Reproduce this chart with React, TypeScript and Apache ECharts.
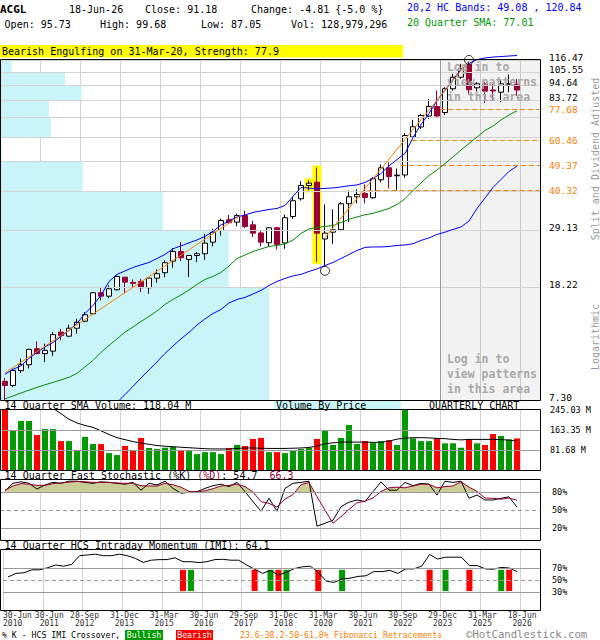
import React, { useEffect, useRef } from "react";
import * as echarts from "echarts";

const MONO = '"DejaVu Sans Mono", monospace';

// ---------- data ----------
const dateTickLabels = [
  "30-Jun\n2010", "30-Jun\n2011", "28-Sep\n2012", "31-Dec\n2013", "31-Mar\n2015",
  "30-Jun\n2016", "29-Sep\n2017", "31-Dec\n2018", "31-Mar\n2020", "30-Jun\n2021",
  "30-Sep\n2022", "29-Dec\n2023", "31-Mar\n2025", "18-Jun\n2026",
];

const opens = [8.50, 8.22, 9.27, 9.73, 11.09, 10.65, 10.87, 12.69, 12.28, 13.10, 13.87, 14.74, 17.49, 17.01, 17.92, 19.86, 19.02, 19.18, 18.22, 19.70, 20.59, 22.62, 24.48, 22.94, 23.69, 24.03, 26.41, 29.05, 31.70, 31.08, 32.83, 30.43, 28.47, 26.28, 29.69, 26.24, 32.56, 37.61, 41.91, 43.05, 27.11, 28.65, 29.21, 36.11, 38.23, 39.27, 37.92, 43.90, 48.41, 45.36, 45.65, 62.21, 67.49, 73.81, 79.75, 75.95, 92.12, 101.25, 112.30, 92.87, 95.95, 91.22, 89.60, 95.60, 95.73];
const closes = [8.22, 9.29, 9.73, 11.02, 10.65, 10.94, 12.43, 12.35, 13.10, 13.76, 14.62, 17.49, 17.01, 18.07, 19.97, 19.07, 18.86, 18.22, 19.70, 20.42, 22.33, 24.48, 23.26, 23.69, 24.03, 26.20, 28.65, 31.51, 30.93, 32.83, 30.01, 28.42, 26.41, 29.69, 25.93, 32.22, 37.00, 41.91, 42.71, 28.42, 28.42, 29.21, 36.11, 38.23, 38.95, 38.00, 44.26, 48.41, 45.10, 45.59, 62.97, 67.61, 74.12, 79.75, 73.81, 92.12, 101.25, 108.42, 91.37, 95.95, 90.33, 90.48, 95.95, 95.99, 91.18];
const lows = [7.25, 8.11, 9.09, 9.44, 10.60, 9.94, 10.44, 11.86, 12.18, 12.53, 13.76, 14.62, 16.42, 16.73, 17.82, 17.43, 18.31, 17.57, 17.35, 18.97, 19.86, 21.44, 22.62, 19.86, 22.44, 22.88, 25.50, 27.89, 30.68, 30.08, 29.60, 27.51, 25.50, 25.50, 24.89, 25.03, 31.96, 37.09, 40.24, 22.44, 21.60, 26.07, 28.89, 31.08, 36.20, 36.20, 37.61, 43.05, 40.90, 40.24, 44.63, 61.95, 66.51, 72.15, 72.74, 74.42, 90.85, 99.94, 88.45, 86.51, 81.94, 84.22, 82.60, 89.60, 87.05];
const highs = [8.73, 9.42, 10.22, 11.10, 11.77, 11.55, 12.69, 13.04, 13.47, 14.15, 14.93, 17.57, 18.31, 18.56, 20.14, 19.90, 19.49, 19.60, 19.75, 21.14, 22.75, 25.15, 26.41, 23.75, 24.34, 28.28, 29.45, 31.96, 33.02, 33.29, 34.19, 31.51, 29.05, 29.80, 29.94, 33.02, 38.32, 43.40, 43.65, 48.52, 35.90, 34.50, 36.58, 40.24, 40.57, 42.26, 44.84, 49.73, 50.54, 48.13, 64.17, 71.56, 75.15, 84.77, 90.85, 93.33, 104.10, 112.93, 116.47, 97.21, 97.21, 95.95, 98.56, 103.50, 99.68];

const upperBand = [9.00, 9.37, 9.64, 10.25, 10.76, 11.25, 11.67, 12.25, 12.87, 13.62, 14.77, 15.77, 17.11, 19.18, 20.31, 20.89, 21.49, 21.95, 22.38, 23.12, 23.89, 25.03, 25.61, 26.26, 26.89, 27.67, 28.82, 30.38, 31.38, 32.43, 32.96, 33.64, 34.05, 34.47, 34.75, 35.61, 38.32, 41.23, 41.00, 40.80, 40.90, 41.08, 41.40, 41.81, 42.09, 42.95, 44.37, 46.22, 49.12, 51.78, 54.39, 61.95, 68.89, 75.33, 83.75, 90.85, 99.37, 107.80, 113.20, 116.90, 118.40, 119.30, 119.80, 120.30, 120.84];
const sma20 = [7.37, 7.54, 7.73, 7.91, 8.09, 8.26, 8.43, 8.60, 8.78, 9.07, 9.56, 10.08, 10.76, 11.39, 12.01, 12.69, 13.23, 13.84, 14.42, 15.08, 15.90, 16.56, 17.18, 17.89, 18.72, 19.49, 19.97, 20.64, 21.75, 23.12, 23.79, 24.48, 24.98, 25.50, 25.71, 26.03, 26.89, 28.35, 29.41, 29.77, 30.01, 30.25, 31.00, 31.80, 32.43, 33.00, 33.40, 34.05, 34.75, 35.90, 37.61, 40.24, 42.77, 45.47, 47.55, 50.13, 52.86, 55.96, 59.00, 62.21, 65.59, 68.04, 71.45, 74.41, 77.01];
const lowerBand = [null, null, null, null, null, null, null, null, null, null, null, null, null, null, 7.15, 7.63, 8.16, 8.74, 9.33, 9.96, 10.67, 11.34, 12.01, 12.66, 13.45, 14.13, 14.77, 15.26, 16.09, 16.56, 16.83, 17.32, 17.82, 18.56, 19.18, 19.65, 20.06, 20.31, 20.80, 21.23, 21.84, 22.38, 23.12, 23.89, 24.68, 25.30, 25.40, 25.40, 25.50, 25.71, 25.82, 26.07, 26.78, 27.33, 28.12, 28.65, 29.29, 29.89, 31.38, 34.75, 37.85, 41.23, 44.01, 46.98, 49.08];

const volumes = [245, 163, 200, 200, 143, 167, 167, 118, 118, 82, 135, 106, 106, 69, 61, 98, 79, 131, 90, 86, 91, 95, 82, 82, 65, 73, 73, 65, 90, 102, 98, 127, 131, 73, 73, 69, 78, 86, 90, 127, 163, 102, 131, 184, 106, 118, 110, 118, 122, 102, 245, 129, 118, 118, 129, 109, 109, 91, 125, 109, 102, 147, 139, 125, 129];
const volSma = [null, null, null, null, null, null, 252, 230, 207, 192, 182, 174, 160, 145, 132, 124, 116, 110, 105, 100, 97, 95, 93, 91, 89, 87, 86, 86, 86, 88, 90, 90, 89, 88, 88, 88, 89, 90, 92, 98, 107, 111, 114, 114, 114, 114, 113, 113, 118, 126, 130, 132, 132, 131, 129, 128, 125, 123, 125, 125, 125, 125, 124, 122, 118];

const stochK = [82, 94.5, 97, 94.5, 85, 91.7, 96, 94.5, 98, 98, 96, 94.5, 97, 96, 94.5, 93, 96, 83, 94.5, 91.7, 98, 86, 78, 79.5, 80.5, 86, 90.5, 93, 89, 96, 80.5, 64, 48, 69.5, 48, 86, 94.5, 96, 98, 23, 28, 33, 55.5, 63, 66.7, 64, 80.5, 97, 83, 83, 96, 90.5, 94.5, 93, 75, 98, 96, 98, 69.5, 75, 66.7, 66.7, 69.5, 72, 54.7];
const stochD = [83, 90, 94, 93, 91, 91, 94, 95, 96.5, 97.5, 97, 96, 96, 96, 95, 94.5, 94.5, 90.5, 90, 90, 94.5, 92, 88, 81, 80, 82, 85.5, 90, 91, 93, 89, 80, 64, 61, 55, 68, 76, 92, 96, 72, 50, 28, 39, 51, 62, 65, 70, 81, 87, 88, 87, 90, 93, 93, 87, 89, 90, 97, 88, 81, 70, 69.5, 68, 70, 66.3];
const imi = [55, 61, 62, 67, 67, 70.5, 75, 73, 76, 90.5, 91.7, 93, 90.5, 90.5, 93, 90.5, 86, 79.4, 83, 84, 84, 87, 80.5, 80.5, 79, 80.5, 84, 84.5, 83, 83, 75, 68, 61, 66, 58, 63, 69, 72, 73, 63, 48, 46, 52, 53, 56, 57, 64, 64, 66, 61, 68.5, 68.5, 73, 92.5, 85, 88, 88, 88, 74, 74, 68.5, 68, 71, 70, 64.1];
const imiBullQuarters = [23, 33, 35, 42, 55, 62];
const imiBearQuarters = [22, 31, 34, 39, 53, 58, 63];

const priceGridValues = [7.30, 18.22, 29.13, 40.05, 50.97, 61.88, 72.80, 83.72, 94.64, 105.55, 116.47];
const priceGridLabelled = [7.30, 18.22, 29.13, 83.72, 94.64, 105.55, 116.47];
const fibLevels = [77.68, 60.46, 49.37, 40.32];
const fibStartQuarter = [54.4, 50.9, 49.5, 45.3];
const vbpVolume = [269.3, 228.7, 162.7, 82.7, 1.5, 51, 49, 81.7, 65, 11.7]; // bands bottom -> top
const trendLineA = [[0, 9.1], [29.4, 32.8]];
const trendLineB = [[40, 27.4], [58, 115.5]];
const patternQuarters = [38, 39];
const circledQuarters = [40, 58];
const circledPrices = [20.92, 116.47];
const volumeTicks = [245.03, 163.35, 81.68];
const stochTicks = [80, 50, 20];
const imiTicks = [70, 50, 30];
const STOCH_FILL_LEVEL = 80;

// ---------- helpers ----------
const xv = (i: number) => i + 0.625;
const XMAX = 67.5;
const UP = "#009900";
const DOWN_VOL = "#ff0000";
const MAROON = "#990033";
const ORANGE = "#ff8000";
const CYAN = "#c8f4fa";

function text(x: number, y: number, t: string, opts: any = {}) {
  return {
    type: "text",
    x,
    y,
    z: 120,
    rotation: opts.rotation || 0,
    style: {
      text: t,
      x: 0,
      y: 0,
      fill: opts.fill || "#000",
      font: opts.font || `10px ${MONO}`,
      textAlign: opts.align || "left",
      align: opts.align || "left",
      textVerticalAlign: "middle",
      verticalAlign: "middle",
    },
  };
}
function rect(x: number, y: number, w: number, h: number, fill: string, stroke?: string, z = 110) {
  return {
    type: "rect",
    z,
    shape: { x, y, width: w, height: h },
    style: stroke ? { fill: "none", stroke, lineWidth: 1 } : { fill },
  };
}

export default function App() {
  const ref = useRef<HTMLDivElement>(null);

  useEffect(() => {
    if (!ref.current) return;
    const chart = echarts.init(ref.current, undefined, { renderer: "svg" });

    const grids = [
      { left: 0, top: 60, width: 540, height: 340 },
      { left: 0, top: 410, width: 540, height: 60 },
      { left: 0, top: 480, width: 540, height: 60 },
      { left: 0, top: 550, width: 540, height: 60 },
    ];

    const richDate = { fontFamily: MONO, fontSize: 8, lineHeight: 8.5, color: "#333" };
    const dateLabelStyle = {
      show: true,
      fontFamily: MONO,
      fontSize: 8,
      color: "#333",
      lineHeight: 8.5,
      margin: 1,
      rich: {
        s: { ...richDate, padding: [0, 0, 0, 4] },
        w: { ...richDate, padding: [0, 0, 0, 13] },
      },
    };

    const xAxes: any[] = [0, 1, 2, 3].map((g) => ({
      type: "value",
      gridIndex: g,
      min: 0,
      max: XMAX,
      interval: 5,
      position: "bottom",
      axisLine: { show: false },
      axisTick: { show: false },
      axisLabel:
        g === 3
          ? {
              ...dateLabelStyle,
              showMinLabel: false,
              showMaxLabel: false,
              formatter: (val: number) => {
                const k = Math.round(val / 5);
                if (k < 1 || Math.abs(val - k * 5) > 0.01) return "";
                const lbl = dateTickLabels[k];
                if (!lbl) return "";
                const tag = k === 1 ? "w" : "s";
                return lbl
                  .split("\n")
                  .map((part) => `{${tag}|${part}}`)
                  .join("\n");
              },
            }
          : { show: false },
      splitLine: { show: true, lineStyle: { color: "#d3d3d3", width: 1 } },
    }));
    // xAxis 4: volume-by-price scale inside the price grid
    xAxes.push({ type: "value", gridIndex: 0, min: 0, max: 540, show: false });
    // xAxis 5: only carries the first date label (left aligned)
    xAxes.push({
      type: "value",
      gridIndex: 3,
      min: 0,
      max: XMAX,
      interval: 5,
      position: "bottom",
      offset: 0,
      axisLine: { show: false },
      axisTick: { show: false },
      splitLine: { show: false },
      axisLabel: {
        show: true,
        fontFamily: MONO,
        fontSize: 8,
        color: "#333",
        lineHeight: 8.5,
        margin: 1,
        showMinLabel: true,
        showMaxLabel: false,
        alignMinLabel: "left",
        formatter: (val: number) => (Math.abs(val) < 0.01 ? dateTickLabels[0] : ""),
      },
    });

    const hidden = {
      axisLine: { show: false },
      axisTick: { show: false },
      axisLabel: { show: false },
      splitLine: { show: false },
    };
    const yAxes = [
      { type: "log", logBase: 10, gridIndex: 0, min: 7.3, max: 116.47, ...hidden },
      { type: "value", gridIndex: 1, min: 0, max: 245.03, ...hidden },
      { type: "value", gridIndex: 2, min: 0, max: 100, ...hidden },
      { type: "value", gridIndex: 3, min: 0, max: 100, ...hidden },
    ];

    const labelBase = {
      show: true,
      position: "end",
      formatter: "{b}",
      fontFamily: MONO,
      color: "#000",
    };

    const fibStyle = { color: ORANGE, width: 1, type: [5, 3] };
    const fibLabel = { show: true, color: ORANGE, verticalAlign: "middle", lineHeight: 11 };
    const mainMarkLines: any[] = [
      ...priceGridValues.map((v) => ({
        yAxis: v,
        name: v.toFixed(2),
        lineStyle: { color: "#d3d3d3", width: 1, type: "solid" },
        label: { show: priceGridLabelled.includes(v) },
      })),
      { xAxis: 55, name: "", lineStyle: { color: "#999", width: 1, type: "solid" }, label: { show: false } },
      ...fibLevels.map((v, k) => [
        { coord: [xv(fibStartQuarter[k]), v], name: v.toFixed(2), lineStyle: fibStyle, label: fibLabel },
        { coord: [XMAX, v], name: v.toFixed(2), lineStyle: fibStyle, label: fibLabel },
      ]),
    ];

    const panelLines = (ticks: number[], names: string[], dashed: number | null, hideFirstLine: boolean) =>
      ticks.map((v, k) => ({
        yAxis: v,
        name: names[k],
        lineStyle: {
          color: hideFirstLine && k === 0 ? "rgba(0,0,0,0)" : "#9a9a9a",
          width: 1,
          type: dashed === v ? [4, 3] : "solid",
        },
      }));

    const series: any[] = [
      // ----- main panel -----
      {
        type: "line",
        xAxisIndex: 0,
        yAxisIndex: 0,
        data: [[xv(0), closes[0]]],
        showSymbol: false,
        lineStyle: { opacity: 0 },
        silent: true,
        z: 1,
        markArea: {
          silent: true,
          itemStyle: { color: "rgba(0,0,0,0.05)" },
          data: [[{ xAxis: 55 }, { xAxis: XMAX }]],
        },
        markLine: {
          silent: true,
          symbol: ["none", "none"],
          label: { ...labelBase, distance: 9, fontSize: 9.5, verticalAlign: "bottom", lineHeight: 6 },
          data: mainMarkLines,
        },
      },
      {
        type: "custom",
        xAxisIndex: 4,
        yAxisIndex: 0,
        z: 2,
        silent: true,
        data: vbpVolume.map((vol, k) => [priceGridValues[k], priceGridValues[k + 1], vol]),
        encode: { x: 2, y: [0, 1] },
        renderItem: (params: any, api: any) => {
          const p1 = api.coord([0, api.value(1)]);
          const p2 = api.coord([api.value(2), api.value(0)]);
          return {
            type: "rect",
            shape: { x: p1[0], y: p1[1], width: p2[0] - p1[0], height: p2[1] - p1[1] },
            style: { fill: CYAN },
          };
        },
      },
      {
        type: "custom",
        xAxisIndex: 0,
        yAxisIndex: 0,
        z: 3,
        silent: true,
        data: patternQuarters.map((i) => [xv(i), lows[i], highs[i]]),
        encode: { x: 0, y: [1, 2] },
        renderItem: (params: any, api: any) => {
          const top = api.coord([api.value(0), api.value(2)]);
          const bot = api.coord([api.value(0), api.value(1)]);
          return {
            type: "rect",
            shape: { x: top[0] - 4.5, y: top[1] - 2, width: 9, height: bot[1] - top[1] + 4 },
            style: { fill: "#ffff00" },
          };
        },
      },
      {
        type: "candlestick",
        xAxisIndex: 0,
        yAxisIndex: 0,
        z: 4,
        barWidth: 6,
        data: opens.map((o, i) => [xv(i), o, closes[i], lows[i], highs[i]]),
        encode: { x: 0, y: [1, 2, 3, 4] },
        itemStyle: {
          color: "#ffffff",
          borderColor: "#000000",
          color0: MAROON,
          borderColor0: MAROON,
          borderWidth: 1,
        },
      },
      {
        type: "line",
        xAxisIndex: 0,
        yAxisIndex: 0,
        z: 5,
        data: sma20.map((v, i) => [xv(i), v]),
        showSymbol: false,
        lineStyle: { color: "#008c00", width: 1 },
      },
      {
        type: "line",
        xAxisIndex: 0,
        yAxisIndex: 0,
        z: 5,
        clip: false,
        data: upperBand.map((v, i) => [xv(i), v]),
        showSymbol: false,
        lineStyle: { color: "#0000ff", width: 1 },
      },
      {
        type: "line",
        xAxisIndex: 0,
        yAxisIndex: 0,
        z: 5,
        data: lowerBand.map((v, i) => [xv(i), v == null ? "-" : v]),
        showSymbol: false,
        lineStyle: { color: "#0000ff", width: 1 },
      },
      ...[trendLineA, trendLineB].map((ln) => ({
        type: "line",
        xAxisIndex: 0,
        yAxisIndex: 0,
        z: 5,
        data: ln.map((p) => [xv(p[0]), p[1]]),
        showSymbol: false,
        lineStyle: { color: ORANGE, width: 1 },
      })),
      {
        type: "scatter",
        xAxisIndex: 0,
        yAxisIndex: 0,
        z: 6,
        clip: false,
        symbol: "circle",
        symbolSize: 9,
        data: circledQuarters.map((q, k) => [xv(q), circledPrices[k]]),
        itemStyle: { color: "rgba(0,0,0,0)", borderColor: "#000", borderWidth: 1 },
      },
      // ----- volume panel -----
      {
        type: "line",
        xAxisIndex: 1,
        yAxisIndex: 1,
        data: [[xv(0), 0]],
        showSymbol: false,
        lineStyle: { opacity: 0 },
        silent: true,
        z: 1,
        markLine: {
          silent: true,
          symbol: ["none", "none"],
          label: { ...labelBase, distance: 10, fontSize: 8.5 },
          data: panelLines(volumeTicks, ["245.03 M", "163.35 M", "81.68 M"], null, true),
        },
      },
      {
        type: "bar",
        xAxisIndex: 1,
        yAxisIndex: 1,
        z: 2,
        barWidth: 6,
        data: volumes.map((v, i) => [xv(i), v]),
        itemStyle: {
          color: (p: any) => (closes[p.dataIndex] >= opens[p.dataIndex] ? UP : DOWN_VOL),
        },
      },
      {
        type: "line",
        xAxisIndex: 1,
        yAxisIndex: 1,
        z: 3,
        data: volSma.map((v, i) => [xv(i), v == null ? "-" : v]),
        showSymbol: false,
        lineStyle: { color: "#000", width: 1 },
      },
      // ----- stochastic panel -----
      {
        type: "line",
        xAxisIndex: 2,
        yAxisIndex: 2,
        z: 1,
        data: [[xv(0), 50]],
        showSymbol: false,
        lineStyle: { opacity: 0 },
        silent: true,
        markLine: {
          silent: true,
          symbol: ["none", "none"],
          label: { ...labelBase, distance: 12, fontSize: 8.5 },
          data: panelLines(stochTicks, ["80%", "50%", "20%"], 50, false),
        },
      },
      {
        type: "custom",
        xAxisIndex: 2,
        yAxisIndex: 2,
        z: 2,
        silent: true,
        data: stochD.map((v, i) => [xv(i), v]),
        encode: { x: 0, y: 1 },
        renderItem: (params: any, api: any) => {
          const i = params.dataIndex;
          if (i === 0) return null;
          const L = STOCH_FILL_LEVEL;
          const x0 = xv(i - 1);
          const x1 = xv(i);
          const d0 = stochD[i - 1];
          const d1 = stochD[i];
          if (d0 <= L && d1 <= L) return null;
          let pts: number[][];
          if (d0 >= L && d1 >= L) {
            pts = [[x0, L], [x0, d0], [x1, d1], [x1, L]];
          } else {
            const t = (L - d0) / (d1 - d0);
            const xc = x0 + t * (x1 - x0);
            pts = d0 > L ? [[x0, L], [x0, d0], [xc, L]] : [[xc, L], [x1, d1], [x1, L]];
          }
          return {
            type: "polygon",
            shape: { points: pts.map((p) => api.coord(p)) },
            style: { fill: "#cccc99", stroke: "#cccc99", lineWidth: 0.6 },
          };
        },
      },
      {
        type: "line",
        xAxisIndex: 2,
        yAxisIndex: 2,
        z: 4,
        data: stochK.map((v, i) => [xv(i), v]),
        showSymbol: false,
        lineStyle: { color: "#000", width: 1 },
      },
      {
        type: "line",
        xAxisIndex: 2,
        yAxisIndex: 2,
        z: 4,
        data: stochD.map((v, i) => [xv(i), v]),
        showSymbol: false,
        lineStyle: { color: MAROON, width: 1 },
      },
      // ----- IMI panel -----
      {
        type: "line",
        xAxisIndex: 3,
        yAxisIndex: 3,
        z: 1,
        data: [[xv(0), 50]],
        showSymbol: false,
        lineStyle: { opacity: 0 },
        silent: true,
        markLine: {
          silent: true,
          symbol: ["none", "none"],
          label: { ...labelBase, distance: 12, fontSize: 8.5 },
          data: panelLines(imiTicks, ["70%", "50%", "30%"], 50, false),
        },
      },
      {
        type: "custom",
        xAxisIndex: 3,
        yAxisIndex: 3,
        z: 2,
        silent: true,
        data: [
          ...imiBullQuarters.map((q) => [xv(q), 1]),
          ...imiBearQuarters.map((q) => [xv(q), 0]),
        ],
        encode: { x: 0, y: 1 },
        renderItem: (params: any, api: any) => {
          const a = api.coord([api.value(0), 67]);
          const b = api.coord([api.value(0), 31.5]);
          return {
            type: "rect",
            shape: { x: a[0] - 3, y: a[1], width: 6, height: b[1] - a[1] },
            style: { fill: api.value(1) ? UP : DOWN_VOL },
          };
        },
      },
      {
        type: "line",
        xAxisIndex: 3,
        yAxisIndex: 3,
        z: 3,
        data: imi.map((v, i) => [xv(i), v]),
        showSymbol: false,
        lineStyle: { color: "#000", width: 1 },
      },
    ];

    const loginFont = `bold 11.5px ${MONO}`;
    const loginFill = "#a8a8a8";
    const elements: any[] = [
      // header
      text(0, 9, "ACGL", { font: `bold 11px ${MONO}` }),
      text(69, 9, "18-Jun-26"),
      text(145, 9, "Close: 91.18"),
      text(251, 9, "Change: -4.81 {-5.0 %}"),
      text(407, 7, "20,2 HC Bands: 49.08 , 120.84", { fill: "#0000ff" }),
      text(4.6, 24, "Open: 95.73"),
      text(100, 24, "High: 99.68"),
      text(201, 24, "Low: 87.05"),
      text(291, 24, "Vol: 128,979,296"),
      text(407, 22, "20 Quarter SMA: 77.01", { fill: "#009900" }),
      rect(0, 45, 403, 12.5, "#ffff00"),
      text(2, 51.5, "Bearish Engulfing on 31-Mar-20, Strength: 77.9"),
      // login notes
      text(447, 67, "Log in to", { font: loginFont, fill: loginFill }),
      text(447, 82, "view patterns", { font: loginFont, fill: loginFill }),
      text(447, 97, "in this area", { font: loginFont, fill: loginFill }),
      text(447, 359, "Log in to", { font: loginFont, fill: loginFill }),
      text(447, 374, "view patterns", { font: loginFont, fill: loginFill }),
      text(447, 389, "in this area", { font: loginFont, fill: loginFill }),
      // side texts
      text(595, 159, "Split and Dividend Adjusted", { fill: "#999", rotation: Math.PI / 2, align: "center" }),
      text(595, 337, "Logarithmic", { fill: "#999", rotation: Math.PI / 2, align: "center" }),
      // panel titles
      text(4.6, 405.5, "14 Quarter SMA Volume: 118.04 M"),
      rect(274, 400.5, 127, 9.5, CYAN),
      text(276, 405.5, "Volume By Price"),
      text(429, 405.5, "QUARTERLY CHART"),
      text(4.6, 475.5, "14 Quarter Fast Stochastic (%K)"),
      text(4.6 + 32 * 6.02, 475.5, "(%D)", { fill: MAROON }),
      text(4.6 + 36 * 6.02, 475.5, ": 54.7"),
      text(4.6 + 44 * 6.02, 475.5, "66.3", { fill: MAROON }),
      text(4.6, 545.5, "14 Quarter HCS Intraday Momentum (IMI): 64.1"),
      // bottom legend
      text(2, 635, "% K - HCS IMI Crossover,", { font: `8.2px ${MONO}` }),
      rect(125, 630, 38, 10, UP),
      text(144, 635, "Bullish", { font: `8.2px ${MONO}`, fill: "#fff", align: "center" }),
      rect(176, 630, 37, 10, "#ff0000"),
      text(194.5, 635, "Bearish", { font: `8.2px ${MONO}`, fill: "#fff", align: "center" }),
      text(240, 635, "23.6-38.2-50-61.8% Fibonacci Retracements", { font: `8.2px ${MONO}`, fill: ORANGE }),
      text(466, 634, "\u00a9HotCandlestick.com", { font: `10.6px ${MONO}`, fill: "#888" }),
      // panel frames
      rect(0.5, 59.5, 540, 341, "", "#000", 130),
      rect(0.5, 409.5, 540, 61, "", "#000", 130),
      rect(0.5, 479.5, 540, 61, "", "#000", 130),
      rect(0.5, 549.5, 540, 61, "", "#000", 130),
    ];

    chart.setOption({
      animation: false,
      backgroundColor: "#fff",
      textStyle: { fontFamily: MONO },
      grid: grids,
      xAxis: xAxes,
      yAxis: yAxes,
      series,
      graphic: { elements },
    });

    return () => chart.dispose();
  }, []);

  return (
    <div
      ref={ref}
      style={{ position: "absolute", left: 0, top: 0, width: 600, height: 640, background: "#fff" }}
    />
  );
}
